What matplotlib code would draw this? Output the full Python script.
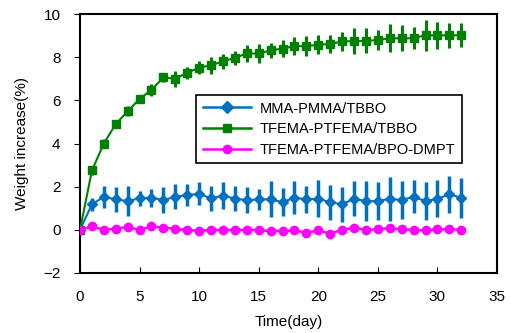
import matplotlib
matplotlib.use("Agg")
import matplotlib.pyplot as plt
from matplotlib.lines import Line2D
import numpy as np

plt.rcParams['font.family'] = ['Liberation Sans', 'DejaVu Sans']

# days
days = list(range(0, 33))

# MMA-PMMA/TBBO
mma = [0, 1.18, 1.53, 1.41, 1.33, 1.46, 1.49, 1.38, 1.53, 1.61, 1.67, 1.46, 1.59,
       1.44, 1.38, 1.41, 1.41, 1.28, 1.49, 1.41, 1.44, 1.28, 1.18, 1.44, 1.33,
       1.33, 1.44, 1.38, 1.53, 1.33, 1.44, 1.64, 1.49]
mma_err = [0, 0.31, 0.52, 0.59, 0.71, 0.35, 0.42, 0.59, 0.58, 0.5, 0.54, 0.58, 0.63,
           0.58, 0.62, 0.5, 0.83, 0.66, 0.76, 0.62, 0.85, 0.81, 0.81, 0.81, 0.93,
           0.89, 1.02, 0.89, 0.77, 0.89, 0.85, 0.85, 0.93]

# TFEMA-PTFEMA/TBBO
tf_tbbo = [0, 2.75, 4.0, 4.9, 5.49, 6.07, 6.48, 7.06, 7.0, 7.28, 7.51, 7.63, 7.8,
           7.97, 8.17, 8.17, 8.31, 8.4, 8.51, 8.51, 8.58, 8.61, 8.73, 8.74, 8.76,
           8.79, 8.88, 8.87, 8.88, 9.02, 9.01, 9.01, 9.02]
tf_tbbo_err = [0, 0.2, 0.2, 0.2, 0.23, 0.19, 0.27, 0.22, 0.36, 0.27, 0.31, 0.39, 0.35,
               0.31, 0.39, 0.44, 0.35, 0.39, 0.42, 0.46, 0.45, 0.41, 0.44, 0.6, 0.58,
               0.46, 0.66, 0.6, 0.52, 0.72, 0.64, 0.58, 0.56]

# TFEMA-PTFEMA/BPO-DMPT
tf_bpo = [0, 0.16, 0, 0.06, 0.13, 0, 0.16, 0.1, 0.05, -0.01, -0.04, -0.01, 0,
          -0.01, 0, -0.01, -0.06, -0.04, -0.03, -0.13, -0.03, -0.17, 0, 0.1, 0,
          0.03, 0.08, 0.02, 0, -0.03, 0.03, 0.03, 0]

labels = ['MMA-PMMA/TBBO', 'TFEMA-PTFEMA/TBBO', 'TFEMA-PTFEMA/BPO-DMPT']
colors = ['#0070C0', '#008000', '#FF00FF']
markers = ['D', 's', 'o']

fig = plt.figure(figsize=(5.11, 3.33), dpi=100)
ax = fig.add_axes([80/511, 1-273/333, 417/511, 259/333])

ax.errorbar(days, mma, yerr=mma_err, color=colors[0], marker=markers[0], markersize=5,
            lw=1.5, elinewidth=2.5, capsize=0, zorder=2)
ax.errorbar(days, tf_tbbo, yerr=tf_tbbo_err, color=colors[1], marker=markers[1], markersize=6,
            lw=1.5, elinewidth=2.2, capsize=0, zorder=3)
ax.plot(days, tf_bpo, color=colors[2], marker=markers[2], markersize=6, lw=1.8, zorder=4)

ax.set_xlim(0, 35)
ax.set_ylim(-2, 10)
ax.set_xticks(range(0, 36, 5))
ax.set_yticks(range(-2, 11, 2))
ax.tick_params(axis='x', direction='in', length=4, labelsize=11, pad=12)
ax.tick_params(axis='y', direction='out', length=4, labelsize=11, pad=10)
for s in ax.spines.values():
    s.set_linewidth(1.5)

ax.set_xlabel('Time(day)', fontsize=11, labelpad=8)
ax.set_ylabel('Weight increase(%)', fontsize=11, labelpad=10)

handles = [Line2D([], [], color=c, marker=m, markersize=6, lw=1.8)
           for c, m in zip(colors, markers)]
leg = ax.legend(handles, labels, loc='upper left', bbox_to_anchor=(116/417, 1-81/259),
                fontsize=10.5, frameon=True, fancybox=False, edgecolor='black',
                framealpha=1, borderpad=0.45, handlelength=3.3, labelspacing=0.45,
                handletextpad=0.6, borderaxespad=0)
leg.get_frame().set_linewidth(1.2)

fig.savefig('out.png', dpi=100)
